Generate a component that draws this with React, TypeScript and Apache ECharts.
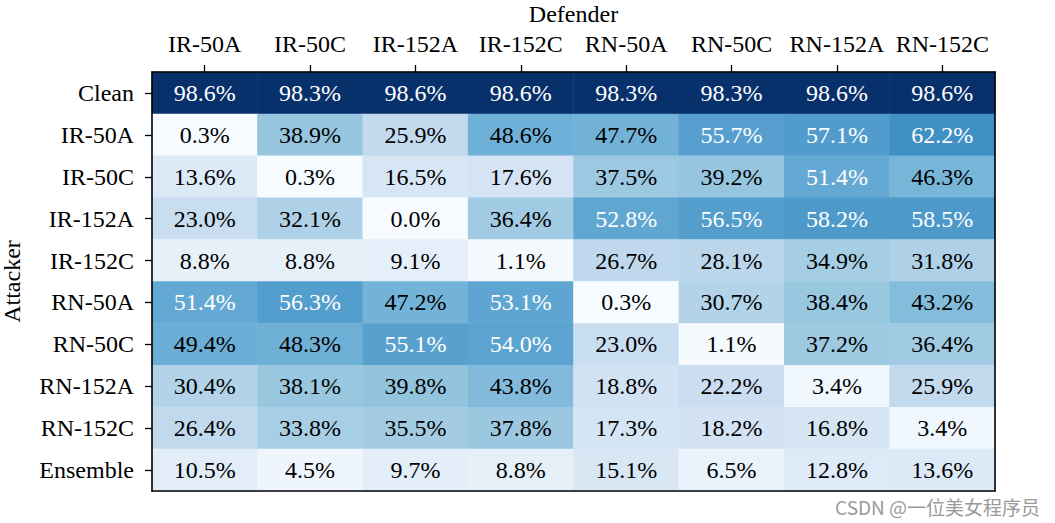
import React, { useEffect, useRef } from "react";
import * as echarts from "echarts";

const defenders = ["IR-50A", "IR-50C", "IR-152A", "IR-152C", "RN-50A", "RN-50C", "RN-152A", "RN-152C"];
const attackers = ["Clean", "IR-50A", "IR-50C", "IR-152A", "IR-152C", "RN-50A", "RN-50C", "RN-152A", "RN-152C", "Ensemble"];

const rowClean = [98.6, 98.3, 98.6, 98.6, 98.3, 98.3, 98.6, 98.6];
const rowIR50A = [0.3, 38.9, 25.9, 48.6, 47.7, 55.7, 57.1, 62.2];
const rowIR50C = [13.6, 0.3, 16.5, 17.6, 37.5, 39.2, 51.4, 46.3];
const rowIR152A = [23.0, 32.1, 0.0, 36.4, 52.8, 56.5, 58.2, 58.5];
const rowIR152C = [8.8, 8.8, 9.1, 1.1, 26.7, 28.1, 34.9, 31.8];
const rowRN50A = [51.4, 56.3, 47.2, 53.1, 0.3, 30.7, 38.4, 43.2];
const rowRN50C = [49.4, 48.3, 55.1, 54.0, 23.0, 1.1, 37.2, 36.4];
const rowRN152A = [30.4, 38.1, 39.8, 43.8, 18.8, 22.2, 3.4, 25.9];
const rowRN152C = [26.4, 33.8, 35.5, 37.8, 17.3, 18.2, 16.8, 3.4];
const rowEnsemble = [10.5, 4.5, 9.7, 8.8, 15.1, 6.5, 12.8, 13.6];

const rows = [rowClean, rowIR50A, rowIR50C, rowIR152A, rowIR152C, rowRN50A, rowRN50C, rowRN152A, rowRN152C, rowEnsemble];

const blues = ["#f7fbff", "#deebf7", "#c6dbef", "#9ecae1", "#6baed6", "#4292c6", "#2171b5", "#08519c", "#08306b"];

const SERIF = "Liberation Serif";
const FS = 24;

export default function App() {
  const ref = useRef<HTMLDivElement>(null);
  useEffect(() => {
    document.body.style.margin = "0";
    const chart = echarts.init(ref.current!, null, { renderer: "svg" });
    const data: any[] = [];
    rows.forEach((row, r) => {
      row.forEach((v, c) => {
        data.push({
          value: [c, r, v],
          label: {
            show: true,
            color: v > 50 ? "#ffffff" : "#000000",
            fontFamily: SERIF,
            fontSize: FS,
          },
        });
      });
    });
    const frameLine = { show: true, lineStyle: { color: "#000", width: 1.6 } };
    const tick = { show: true, alignWithLabel: true, length: 7, lineStyle: { color: "#000", width: 1.3 } };
    chart.setOption({
      animation: false,
      backgroundColor: "#ffffff",
      textStyle: { fontFamily: SERIF },
      grid: { left: 152, right: 60, top: 72, bottom: 32, containLabel: false, outerBoundsMode: "none" },
      visualMap: {
        show: false,
        min: 0,
        max: 98.6,
        dimension: 2,
        inRange: { color: blues },
      },
      xAxis: [
        {
          type: "category",
          data: defenders,
          position: "top",
          z: 10,
          name: "Defender",
          nameLocation: "middle",
          nameGap: 46,
          nameTextStyle: { fontFamily: SERIF, fontSize: FS, color: "#000" },
          axisLine: frameLine,
          axisTick: tick,
          axisLabel: { fontFamily: SERIF, fontSize: FS, color: "#000", margin: 16, interval: 0 },
          splitLine: { show: false },
        },
        {
          type: "category",
          data: defenders,
          position: "bottom",
          z: 10,
          axisLine: frameLine,
          axisTick: { show: false },
          axisLabel: { show: false },
          splitLine: { show: false },
        },
      ],
      yAxis: [
        {
          type: "category",
          data: attackers,
          inverse: true,
          z: 10,
          name: "Attacker",
          nameLocation: "middle",
          nameGap: 128,
          nameTextStyle: { fontFamily: SERIF, fontSize: FS, color: "#000" },
          axisLine: frameLine,
          axisTick: tick,
          axisLabel: { fontFamily: SERIF, fontSize: FS, color: "#000", margin: 18, interval: 0 },
          splitLine: { show: false },
        },
        {
          type: "category",
          data: attackers,
          inverse: true,
          position: "right",
          z: 10,
          axisLine: frameLine,
          axisTick: { show: false },
          axisLabel: { show: false },
          splitLine: { show: false },
        },
      ],
      series: [
        {
          type: "heatmap",
          xAxisIndex: 0,
          yAxisIndex: 0,
          z: 2,
          data,
          label: {
            show: true,
            fontFamily: SERIF,
            fontSize: FS,
            formatter: (p: any) => p.value[2].toFixed(1) + "%",
          },
          itemStyle: { borderWidth: 0 },
          emphasis: { disabled: true },
        },
      ],
      graphic: [
        {
          type: "text",
          right: 15,
          bottom: 7,
          z: 100,
          style: {
            text: "CSDN @一位美女程序员",
            fontFamily: "Noto Sans CJK SC",
            fontSize: 19,
            fill: "#9a9a9a",
          },
        },
      ],
    });
    return () => chart.dispose();
  }, []);
  return <div ref={ref} style={{ width: 1055, height: 523 }} />;
}
